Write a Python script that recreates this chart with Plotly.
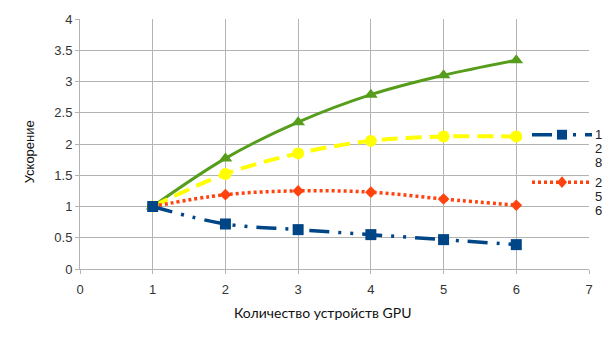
import plotly.graph_objects as go

# GPU count on the x axis
gpus = [1, 2, 3, 4, 5, 6]

# speedup series
speedup_green = [1.0, 1.77, 2.35, 2.79, 3.10, 3.34]
speedup_yellow = [1.0, 1.52, 1.85, 2.05, 2.12, 2.12]
speedup_256 = [1.0, 1.19, 1.25, 1.23, 1.12, 1.02]
speedup_128 = [1.0, 0.72, 0.63, 0.55, 0.47, 0.39]

x_ticks = [0, 1, 2, 3, 4, 5, 6, 7]
y_ticks = [0, 0.5, 1, 1.5, 2, 2.5, 3, 3.5, 4]

legend_names = ["128", "256"]

BLUE = "#004586"
ORANGE = "#ff420e"
YELLOW = "#ffff00"
GREEN = "#579d1c"
GRID = "#b3b3b3"
FONT = "Liberation Sans"
TITLE_FONT = "Lato"

fig = go.Figure()

fig.add_trace(go.Scatter(
    x=gpus, y=speedup_green, mode="lines+markers", showlegend=False,
    line=dict(color=GREEN, width=3, shape="spline"),
    marker=dict(symbol="triangle-up", size=12, color=GREEN),
))
fig.add_trace(go.Scatter(
    x=gpus, y=speedup_yellow, mode="lines+markers", showlegend=False,
    line=dict(color=YELLOW, width=4, shape="spline", dash="16px,8px"),
    marker=dict(symbol="circle", size=12, color=YELLOW),
))
fig.add_trace(go.Scatter(
    x=gpus, y=speedup_256, mode="lines+markers", showlegend=False,
    line=dict(color=ORANGE, width=3.5, shape="spline", dash="3px,3px"),
    marker=dict(symbol="diamond", size=9, color=ORANGE),
))
fig.add_trace(go.Scatter(
    x=gpus, y=speedup_128, mode="lines+markers", showlegend=False,
    line=dict(color=BLUE, width=3.5, shape="spline",
              dash="20px,9px,3px,9px,3px,9px"),
    marker=dict(symbol="square", size=11, color=BLUE),
))

axis_common = dict(
    showgrid=True, gridcolor=GRID, gridwidth=1,
    showline=True, linecolor=GRID, linewidth=1,
    ticks="outside", ticklen=4, tickcolor=GRID,
    tickfont=dict(family=FONT, size=13, color="#333333"),
    zeroline=False,
)

fig.update_xaxes(range=[0, 7], tickvals=x_ticks, ticktext=[str(v) for v in x_ticks],
                 ticklabelstandoff=4, **axis_common)
fig.update_yaxes(range=[0, 4], tickvals=y_ticks, ticktext=[f"{v:g}" for v in y_ticks],
                 **axis_common)

# figure geometry (pixels)
W, H = 605, 340
L, R, T, B = 80, 16, 14, 71
pw, ph = W - L - R, H - T - B


def px(xp):
    return (xp - L) / pw


def py(yp):
    return (H - B - yp) / ph


shapes = []
annotations = [
    dict(text="Количество устройств GPU", xref="paper", yref="paper",
         x=px(323), y=py(313), xanchor="center", yanchor="middle", showarrow=False,
         font=dict(family=TITLE_FONT, size=14, color="#111111")),
    dict(text="Ускорение", xref="paper", yref="paper", textangle=-90,
         x=px(29), y=py(150), xanchor="center", yanchor="middle", showarrow=False,
         font=dict(family=FONT, size=13, color="#111111")),
]

# legend keys on the right edge, partly outside the plotting area;
# names are wrapped one character per line
legend = [
    (legend_names[0], BLUE, "20px,9px,3px,9px,3px,9px", 132, "square"),
    (legend_names[1], ORANGE, "3px,3px", 180.5, "diamond"),
]
for name, color, dash, yline, sym in legend:
    shapes.append(dict(type="line", xref="paper", yref="paper",
                       x0=px(532), x1=px(592), y0=py(yline), y1=py(yline),
                       line=dict(color=color, width=3.5, dash=dash)))
    cx, cy = 562, yline
    if sym == "square":
        path = (f"M{px(cx-5)},{py(cy-5)} L{px(cx+5)},{py(cy-5)} "
                f"L{px(cx+5)},{py(cy+5)} L{px(cx-5)},{py(cy+5)} Z")
    else:
        path = (f"M{px(cx)},{py(cy-6)} L{px(cx+5)},{py(cy)} "
                f"L{px(cx)},{py(cy+6)} L{px(cx-5)},{py(cy)} Z")
    shapes.append(dict(type="path", xref="paper", yref="paper", path=path,
                       fillcolor=color, line=dict(color=color, width=0)))
    for i, ch in enumerate(name):
        annotations.append(dict(text=ch, xref="paper", yref="paper",
                                x=px(593), y=py(yline + 14.3 * i),
                                xanchor="left", yanchor="middle",
                                showarrow=False,
                                font=dict(family=FONT, size=13, color="#222222")))

fig.update_layout(
    width=W, height=H,
    margin=dict(l=L, r=R, t=T, b=B),
    paper_bgcolor="white", plot_bgcolor="white",
    shapes=shapes, annotations=annotations,
    showlegend=False,
)

fig.write_html("out.html")
